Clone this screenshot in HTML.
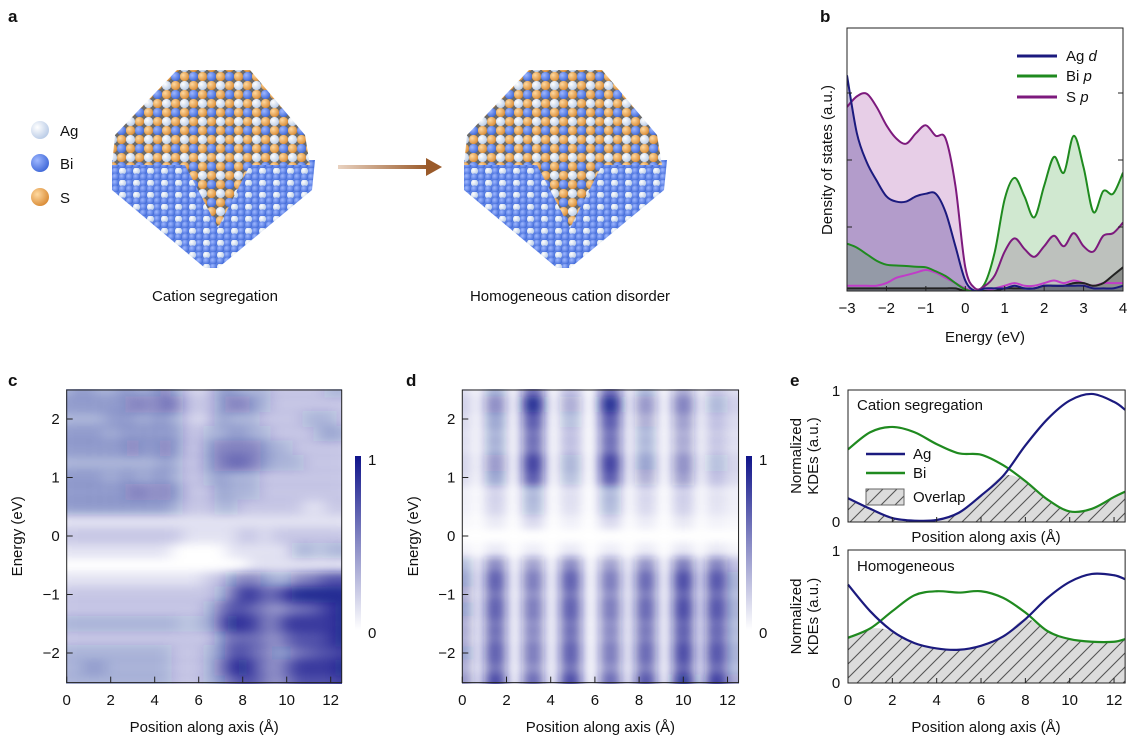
<!DOCTYPE html>
<html><head><meta charset="utf-8"><style>
html,body{margin:0;padding:0;background:#fff;}
svg{display:block;font-family:"Liberation Sans",Arial,sans-serif;}
text{fill:#111;}
</style></head><body>
<svg id="fig" width="1133" height="747" viewBox="0 0 1133 747" xmlns="http://www.w3.org/2000/svg">
<defs>
  <radialGradient id="gOr" cx="0.35" cy="0.35" r="0.7"><stop offset="0" stop-color="#ffd9a0"/><stop offset="1" stop-color="#d98b35"/></radialGradient>
  <radialGradient id="gBl" cx="0.35" cy="0.35" r="0.7"><stop offset="0" stop-color="#9fb8ff"/><stop offset="1" stop-color="#3f68d8"/></radialGradient>
  <radialGradient id="gWh" cx="0.35" cy="0.35" r="0.7"><stop offset="0" stop-color="#ffffff"/><stop offset="1" stop-color="#b9cbe6"/></radialGradient>
  <pattern id="patTop" width="18" height="18" patternUnits="userSpaceOnUse">
    <rect width="18" height="18" fill="#6a6a6a"/>
    <circle cx="4.5" cy="4.5" r="4.6" fill="url(#gOr)"/><circle cx="13.5" cy="4.5" r="4.6" fill="url(#gBl)"/>
    <circle cx="4.5" cy="13.5" r="4.6" fill="url(#gWh)"/><circle cx="13.5" cy="13.5" r="4.6" fill="url(#gOr)"/>
  </pattern>
  <pattern id="patBot" width="14" height="12" patternUnits="userSpaceOnUse">
    <rect width="14" height="12" fill="#5a7fe0"/>
    <circle cx="3.5" cy="3" r="3.6" fill="url(#gBl)"/><circle cx="10.5" cy="3" r="3.6" fill="url(#gWh)"/>
    <circle cx="3.5" cy="9" r="3.6" fill="url(#gBl)"/><circle cx="10.5" cy="9" r="3.6" fill="url(#gBl)"/>
  </pattern>
  <linearGradient id="arrowG" x1="0" x2="1"><stop offset="0" stop-color="#e9d2c0"/><stop offset="1" stop-color="#9a5a2a"/></linearGradient>
  <linearGradient id="cbar" x1="0" y1="1" x2="0" y2="0"><stop offset="0" stop-color="#ffffff"/><stop offset="1" stop-color="#10148a"/></linearGradient>
  <pattern id="hatch" width="14" height="14" patternUnits="userSpaceOnUse">
    <rect width="14" height="14" fill="#dcdcdc"/>
    <path d="M0,14 L14,0 M-3,3 L3,-3 M11,17 L17,11" stroke="#555" stroke-width="1.1"/>
  </pattern>
  <filter id="blurC" filterUnits="userSpaceOnUse" x="40" y="360" width="330" height="350"><feGaussianBlur stdDeviation="8 4.5"/></filter>
  <filter id="blurD" filterUnits="userSpaceOnUse" x="430" y="360" width="340" height="350"><feGaussianBlur stdDeviation="6 4"/></filter>
  <clipPath id="clipC"><rect x="66" y="389" width="276" height="295"/></clipPath>
  <clipPath id="clipD"><rect x="462" y="389" width="277" height="295"/></clipPath>
  <clipPath id="clipB"><rect x="847" y="28" width="276" height="263"/></clipPath>
</defs>

<text x="8" y="22" font-weight="bold" font-size="17">a</text>
<text x="820" y="22" font-weight="bold" font-size="17">b</text>
<text x="8" y="386" font-weight="bold" font-size="17">c</text>
<text x="406" y="386" font-weight="bold" font-size="17">d</text>
<text x="790" y="386" font-weight="bold" font-size="17">e</text>

<g>
  <g>
    <circle cx="40" cy="130" r="9" fill="url(#gWh)"/><text x="60" y="136" font-size="15">Ag</text>
    <circle cx="40" cy="163" r="9" fill="url(#gBl)"/><text x="60" y="169" font-size="15">Bi</text>
    <circle cx="40" cy="197" r="9" fill="url(#gOr)"/><text x="60" y="203" font-size="15">S</text>
  </g>
  <g>
    <polygon points="112,160 315,160 312,190 218,268 205,268 112,190" fill="url(#patBot)"/>
    <polygon points="177,70 250,70 305,135 310,165 112,165 115,135" fill="url(#patTop)"/>
    <polygon points="185,165 250,165 218,228" fill="url(#patTop)"/>
  </g>
  <g transform="translate(352,0)">
    <polygon points="112,160 315,160 312,190 218,268 205,268 112,190" fill="url(#patBot)"/>
    <polygon points="177,70 250,70 305,135 310,165 112,165 115,135" fill="url(#patTop)"/>
    <polygon points="185,165 250,165 218,228" fill="url(#patTop)"/>
  </g>
  <g>
    <rect x="338" y="165" width="90" height="4" fill="url(#arrowG)"/>
    <polygon points="426,158 442,167 426,176" fill="#9a5a2a"/>
  </g>
  <text x="215" y="301" font-size="15" text-anchor="middle">Cation segregation</text>
  <text x="570" y="301" font-size="15" text-anchor="middle">Homogeneous cation disorder</text>
</g>

<g id="panelB"></g>
<g id="panelC"></g>
<g id="panelD"></g>
<g id="panelE"></g>
</svg>
<script>
const dosEnergy = [-3,-2.75,-2.5,-2.25,-2,-1.75,-1.5,-1.25,-1,-0.75,-0.5,-0.25,0,0.25,0.5,0.75,1,1.25,1.5,1.75,2,2.25,2.5,2.75,3,3.25,3.5,3.75,4];
const dosSp  = [0.70,0.74,0.75,0.70,0.63,0.58,0.56,0.60,0.63,0.59,0.58,0.40,0.09,0.01,0.02,0.06,0.15,0.20,0.16,0.13,0.17,0.21,0.17,0.22,0.17,0.15,0.21,0.22,0.26];
const dosAgd = [0.82,0.60,0.49,0.42,0.36,0.34,0.34,0.36,0.37,0.37,0.30,0.17,0.04,0.00,0.01,0.01,0.01,0.02,0.01,0.01,0.02,0.02,0.02,0.02,0.02,0.01,0.01,0.01,0.02];
const dosBip = [0.18,0.165,0.14,0.115,0.10,0.097,0.095,0.092,0.09,0.075,0.057,0.03,0.006,0.00,0.03,0.15,0.35,0.43,0.36,0.28,0.40,0.51,0.45,0.59,0.47,0.30,0.38,0.37,0.45];
const dosMinor1 = [0.02,0.02,0.02,0.02,0.03,0.05,0.06,0.07,0.08,0.07,0.05,0.03,0.01,0.00,0.00,0.01,0.02,0.03,0.02,0.02,0.03,0.04,0.03,0.04,0.03,0.02,0.03,0.03,0.03];
const dosMinor2 = [0.01,0.01,0.01,0.01,0.01,0.01,0.01,0.01,0.01,0.01,0.01,0.01,0.00,0.00,0.00,0.00,0.01,0.01,0.01,0.01,0.02,0.02,0.02,0.03,0.03,0.02,0.03,0.06,0.09];
const dosXTicks = [-3,-2,-1,0,1,2,3,4];
const dosXTickLabels = ["\u22123","\u22122","\u22121","0","1","2","3","4"];

const hmEnergy = [2.5,2.25,2,1.75,1.5,1.25,1,0.75,0.5,0.25,0,-0.25,-0.5,-0.75,-1,-1.25,-1.5,-1.75,-2,-2.25,-2.5];
const hmPosC = [0,0.5,1,1.5,2,2.5,3,3.5,4,4.5,5,5.5,6,6.5,7,7.5,8,8.5,9,9.5,10,10.5,11,11.5,12,12.5];
const hmRowsC = [
 "34433443453212443332222233",
 "44444455465222455432222222",
 "33334443443212433322223332",
 "44443444444223344332222343",
 "44444454454224555543322222",
 "33333333343224566543332222",
 "44443443443223433322222222",
 "44444455454222433322222222",
 "44444444443222332222221122",
 "11111111111111111111111111",
 "22222222222111112212222222",
 "11111111110000011111133233",
 "00000000000000000111111111",
 "11111111111112245543355677",
 "22222222222222358866899999",
 "22222222222223577654566789",
 "33333333333233698855888889",
 "22222222222222466654677789",
 "33333333332223477654466778",
 "33443333332223589754688889",
 "33333333332223467754577778"
];
const hmPosD = [0,1.5,3.2,4.9,6.7,8.3,10.0,11.5,12.6];
const hmStrengthUpperD = [0.2,0.55,1.0,0.4,1.0,0.5,0.6,0.35,0.2];
const hmStrengthLowerD = [0.5,0.85,0.7,0.85,0.7,0.8,0.95,0.9,0.4];
const hmProfileD = [0.6,0.9,0.7,0.6,0.6,0.8,0.7,0.3,0.3,0.15,0,0.1,0.6,0.8,0.7,0.8,0.7,0.7,0.8,0.7,0.9];
const hmXTicks = [0,2,4,6,8,10,12];
const hmYTicks = [2,1,0,-1,-2];
const hmYTickLabels = ["2","1","0","\u22121","\u22122"];

const kdePos = [0,1,2,3,4,5,6,7,8,9,10,11,12,12.5];
const kdeSegAg = [0.18,0.10,0.03,0.01,0.015,0.07,0.20,0.35,0.58,0.78,0.92,0.97,0.91,0.85];
const kdeSegBi = [0.55,0.68,0.72,0.68,0.59,0.52,0.51,0.43,0.31,0.17,0.08,0.10,0.19,0.23];
const kdeHomAg = [0.74,0.54,0.39,0.30,0.26,0.25,0.28,0.35,0.48,0.64,0.76,0.82,0.81,0.78];
const kdeHomBi = [0.34,0.41,0.54,0.66,0.69,0.68,0.69,0.64,0.53,0.39,0.33,0.31,0.31,0.33];

const NS = "http://www.w3.org/2000/svg";
function mk(tag, attrs, parent){ const e=document.createElementNS(NS,tag); for(const k in attrs) e.setAttribute(k,attrs[k]); if(parent) parent.appendChild(e); return e; }
function txt(parent, x, y, s, size, anchor, extra){ const t=mk("text",Object.assign({x:x,y:y,"font-size":size,"text-anchor":anchor||"start"},extra||{}),parent); t.textContent=s; return t; }
function smooth(pts){
  let d="M"+pts[0][0].toFixed(2)+","+pts[0][1].toFixed(2);
  for(let i=0;i<pts.length-1;i++){
    const p0=pts[Math.max(0,i-1)],p1=pts[i],p2=pts[i+1],p3=pts[Math.min(pts.length-1,i+2)];
    const c1=[p1[0]+(p2[0]-p0[0])/6,p1[1]+(p2[1]-p0[1])/6], c2=[p2[0]-(p3[0]-p1[0])/6,p2[1]-(p3[1]-p1[1])/6];
    d+=" C"+c1[0].toFixed(2)+","+c1[1].toFixed(2)+" "+c2[0].toFixed(2)+","+c2[1].toFixed(2)+" "+p2[0].toFixed(2)+","+p2[1].toFixed(2);
  }
  return d;
}

(function(){
  const g=document.getElementById("panelB");
  const x0=847,x1=1123,y0=291,y1=28;
  const sx=e=>x0+(e-(-3))/(7)*(x1-x0);
  const sy=v=>y0-v*(y0-y1)/1.0;
  const pts=a=>dosEnergy.map((e,i)=>[sx(e),sy(a[i])]);
  const area=a=>smooth(pts(a))+" L"+sx(4)+","+y0+" L"+sx(-3)+","+y0+" Z";
  const cg=mk("g",{"clip-path":"url(#clipB)"},g);
  let f;
  f=mk("path",{d:area(dosSp),fill:"rgba(170,80,170,0.28)"},cg);
   
  f=mk("path",{d:area(dosAgd),fill:"rgba(60,40,140,0.30)"},cg);
   
  f=mk("path",{d:area(dosBip),fill:"rgba(40,150,40,0.22)"},cg);
   
  f=mk("path",{d:area(dosMinor2),fill:"rgba(0,0,0,0.25)"},cg);
   
  const lines=[[dosMinor1,"#c03cc8","minor-line-1"],[dosMinor2,"#222","minor-line-2"],[dosBip,"#1f8a1f","bi-p-line"],[dosSp,"#7d1a7d","s-p-line"],[dosAgd,"#1b1a7e","ag-d-line"]];
  lines.forEach(l=>{ const p=mk("path",{d:smooth(pts(l[0])),fill:"none",stroke:l[1],"stroke-width":2},cg);
      });
  mk("rect",{x:x0,y:y1,width:x1-x0,height:y0-y1,fill:"none",stroke:"#222","stroke-width":1},g);
  dosXTicks.forEach((t,i)=>{ mk("line",{x1:sx(t),x2:sx(t),y1:y0,y2:y0-5,stroke:"#222"},g);
    const l=txt(g,sx(t),313,dosXTickLabels[i],15,"middle");
      });
  [93,160,227].forEach(y=>{ mk("line",{x1:x1,x2:x1-5,y1:y,y2:y,stroke:"#222"},g); mk("line",{x1:x0,x2:x0+5,y1:y,y2:y,stroke:"#222"},g);});
  let t=txt(g,985,342,"Energy (eV)",15,"middle");  
  t=txt(g,0,0,"Density of states (a.u.)",15,"middle",{transform:"translate(832,160) rotate(-90)"});
   
  const leg=[["Ag ","d","#1b1a7e",56],["Bi ","p","#1f8a1f",76],["S ","p","#7d1a7d",97]];
  leg.forEach(L=>{ const lg=mk("g",{},g);  
    mk("line",{x1:1017,x2:1057,y1:L[3],y2:L[3],stroke:L[2],"stroke-width":3},lg);
    const tt=txt(lg,1066,L[3]+5,L[0],15,"start"); const ts=mk("tspan",{"font-style":"italic"},tt); ts.textContent=L[1]; });
})();

function hmAxes(g,x0,x1,y0,y1,sx,sy,cbx,ylabX){
  mk("rect",{x:x0,y:y1,width:x1-x0,height:y0-y1,fill:"none",stroke:"#222","stroke-width":1},g);
  hmXTicks.forEach(t=>{ mk("line",{x1:sx(t),x2:sx(t),y1:y0,y2:y0-6,stroke:"#222"},g);
    const l=txt(g,sx(t),705,String(t),15,"middle");   });
  hmYTicks.forEach((t,i)=>{ mk("line",{x1:x0,x2:x0+6,y1:sy(t),y2:sy(t),stroke:"#222"},g);
    const l=txt(g,x0-7,sy(t)+5,hmYTickLabels[i],15,"end");   });
  let t=txt(g,(x0+x1)/2,732,"Position along axis (\u00c5)",15,"middle");  
  t=txt(g,0,0,"Energy (eV)",15,"middle",{transform:"translate("+ylabX+","+((y0+y1)/2)+") rotate(-90)"});
   
  const cb=mk("rect",{x:cbx,y:456,width:6,height:174,fill:"url(#cbar)"},g);
   
  t=txt(g,cbx+13,465,"1",15,"start");  
  t=txt(g,cbx+13,638,"0",15,"start");  
}

(function(){
  const g=document.getElementById("panelC");
  const x0=66.7,y0=682.6,y1=390;
  const sx=v=>x0+v*22.0, sy=e=>536-e*58.5;
  const x1=sx(12.5);
  mk("rect",{x:x0,y:y1,width:x1-x0,height:y0-y1,fill:"#fff"},g);
  const cg=mk("g",{"clip-path":"url(#clipC)"},g);
  const bg=mk("g",{filter:"url(#blurC)"},cg);
  hmRowsC.forEach((row,ri)=>{ hmPosC.forEach((p,ci)=>{
    const v=Number(row.charAt(ci)||0)/9;
    const ext=(ci===0?-12:0), extR=(ci===hmPosC.length-1?12:0), extT=(ri===0?-12:0), extB=(ri===hmRowsC.length-1?12:0);
    const r=mk("rect",{x:sx(p-0.25)-0.5+ext,y:sy(hmEnergy[ri]+0.125)-0.5+extT,width:22*0.5+1-ext+extR,height:58.5*0.25+1-extT+extB,fill:"#10148a","fill-opacity":(v*0.9).toFixed(3)},bg);
     
  });});
  hmAxes(g,x0,x1,y0,y1,sx,sy,355,22);
})();

(function(){
  const g=document.getElementById("panelD");
  const x0=462.3,y0=682.6,y1=390;
  const sx=v=>x0+v*22.1, sy=e=>536-e*58.5;
  const x1=sx(12.5);
  mk("rect",{x:x0,y:y1,width:x1-x0,height:y0-y1,fill:"#fff"},g);
  const cg=mk("g",{"clip-path":"url(#clipD)"},g);
  const bg=mk("g",{filter:"url(#blurD)"},cg);
  hmEnergy.forEach((e,ri)=>{ hmPosD.forEach((p,ci)=>{
    const s=e>0.1?hmStrengthUpperD[ci]:hmStrengthLowerD[ci];
    const v=s*hmProfileD[ri];
    const extT=(ri===0?-12:0), extB=(ri===hmEnergy.length-1?12:0);
    const r=mk("rect",{x:sx(p-0.5),y:sy(e+0.125)-0.5+extT,width:22.1*1.0,height:58.5*0.25+1-extT+extB,fill:"#10148a","fill-opacity":v},bg);
     
  });});
  hmAxes(g,x0,x1,y0,y1,sx,sy,746,418);
})();

(function(){
  const g=document.getElementById("panelE");
  const x0=848, sx=v=>x0+v*22.17, x1=sx(12.5);
  function sub(yTop,yBot,ag,bi,title,title_y,showLegend,xlabY,showTickLabels,nm){
    const sg=mk("g",{},g);  
    const sy=v=>yBot-v*(yBot-yTop);
    const mn=ag.map((a,i)=>Math.min(a,bi[i]));
    const ov=mk("path",{d:smooth(kdePos.map((p,i)=>[sx(p),sy(mn[i])]))+" L"+x1+","+yBot+" L"+x0+","+yBot+" Z",fill:"url(#hatch)"},sg);
     
    let p=mk("path",{d:smooth(kdePos.map((q,i)=>[sx(q),sy(bi[i])])),fill:"none",stroke:"#1f8a1f","stroke-width":2.2},sg);
     
    p=mk("path",{d:smooth(kdePos.map((q,i)=>[sx(q),sy(ag[i])])),fill:"none",stroke:"#1b1a7e","stroke-width":2.2},sg);
     
    mk("rect",{x:x0,y:yTop,width:x1-x0,height:yBot-yTop,fill:"none",stroke:"#222"},sg);
    hmXTicks.forEach(t=>{ mk("line",{x1:sx(t),x2:sx(t),y1:yBot,y2:yBot-5,stroke:"#222"},sg);
      if(showTickLabels){ const l=txt(sg,sx(t),705,String(t),15,"middle");   } });
    let t=txt(sg,836,yTop+6,"1",15,"middle");  
    t=txt(sg,836,yBot+5,"0",15,"middle");  
    t=txt(sg,857,title_y,title,15,"start");  
    t=txt(sg,986,xlabY,"Position along axis (\u00c5)",15,"middle");  
    const cy=(yTop+yBot)/2;
    t=txt(sg,0,0,"Normalized",15,"middle",{transform:"translate(801,"+cy+") rotate(-90)"});  
    t=txt(sg,0,0,"KDEs (a.u.)",15,"middle",{transform:"translate(818,"+cy+") rotate(-90)"});  
    if(showLegend){
      const lg=mk("g",{},sg);  
      mk("line",{x1:866,x2:905,y1:454,y2:454,stroke:"#1b1a7e","stroke-width":2.5},lg); txt(lg,913,459,"Ag",15);
      mk("line",{x1:866,x2:905,y1:473,y2:473,stroke:"#1f8a1f","stroke-width":2.5},lg); txt(lg,913,478,"Bi",15);
      mk("rect",{x:866,y:489,width:38,height:16,fill:"url(#hatch)",stroke:"#666"},lg); txt(lg,913,502,"Overlap",15);
    }
  }
  sub(390,522,kdeSegAg,kdeSegBi,"Cation segregation",410,true,542,false,"kde-segregation-subplot");
  sub(550,683,kdeHomAg,kdeHomBi,"Homogeneous",571,false,732,true,"kde-homogeneous-subplot");
})();
</script>
</body></html>
